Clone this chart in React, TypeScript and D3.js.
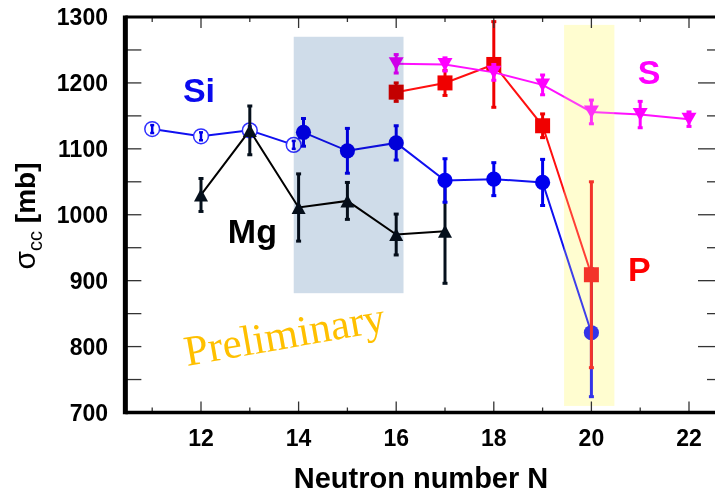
import React from "react";
import * as d3 from "d3";

// ---- data ----
const siOpenN = [11, 12, 13, 13.9];
const siOpenV = [1130, 1119, 1128, 1106];
const siOpenE = [6, 6, 6, 6];

const siN = [14.1, 15, 16, 17, 18, 19, 20];
const siV = [1125, 1097, 1109, 1052, 1054, 1049, 821];
const siE = [21, 34, 26, 33, 25, 35, 97];

const mgN = [12, 13, 14, 15, 16, 17];
const mgV = [1030, 1128, 1011, 1021, 970, 975];
const mgE = [25, 37, 51, 28, 31, 79];

const pN = [16, 17, 18, 19, 20];
const pV = [1186, 1200, 1228, 1135, 909];
const pE = [14, 19, 65, 18, 141];

const sN = [16, 17, 18, 19, 20, 21, 22];
const sV = [1229, 1228, 1216, 1197, 1156, 1152, 1145];
const sE = [14, 10, 12, 15, 18, 20, 11];

const yTicks = [700, 800, 900, 1000, 1100, 1200, 1300];
const xTickLabels = [12, 14, 16, 18, 20, 22];

// shaded bands: [N0, N1, v0, v1]
const blueBand = [13.9, 16.15, 881, 1270];
const yellowBand = [19.44, 20.47, 710, 1288];

const W = 715;
const H = 496;

const x = d3.scaleLinear().domain([12, 22]).range([201, 689]);
const y = d3.scaleLinear().domain([700, 1300]).range([412.5, 17]);

const SANS = "'Liberation Sans', Arial, sans-serif";
const SERIF = "'Liberation Serif', 'Times New Roman', serif";

function ErrBars({ N, V, E, color, capW = 5, sw = 3 }: any) {
  return (
    <g stroke={color} strokeWidth={sw}>
      {N.map((n: number, i: number) => {
        const cx = x(n);
        const y0 = y(V[i] - E[i]);
        const y1 = y(V[i] + E[i]);
        return (
          <g key={i}>
            <line x1={cx} x2={cx} y1={y0} y2={y1} />
            <line x1={cx - capW / 2} x2={cx + capW / 2} y1={y0} y2={y0} />
            <line x1={cx - capW / 2} x2={cx + capW / 2} y1={y1} y2={y1} />
          </g>
        );
      })}
    </g>
  );
}

function linePath(N: number[], V: number[]) {
  const l = d3
    .line<number>()
    .x((d, i) => x(N[i]))
    .y((d) => y(d));
  return l(V) || "";
}

function triUp(cx: number, cy: number, hw: number, h: number) {
  return `M${cx},${cy - h / 2}L${cx + hw},${cy + h / 2}L${cx - hw},${cy + h / 2}Z`;
}
function triDown(cx: number, cy: number, hw: number, h: number) {
  return `M${cx - hw},${cy - h / 2}L${cx + hw},${cy - h / 2}L${cx},${cy + h / 2}Z`;
}

export default function App() {
  const left = x(10.45);
  const right = 716;
  const top = y(1300);
  const bottom = y(700);

  const yMinor = d3.range(700, 1301, 50);
  const xAll = d3.range(11, 23, 1);

  const siAllN = [...siOpenN, ...siN];
  const siAllV = [...siOpenV, ...siV];

  return (
    <svg
      width={W}
      height={H}
      viewBox={`0 0 ${W} ${H}`}
      style={{ position: "absolute", left: 0, top: 0, background: "#fff" }}
    >
      <rect x={0} y={0} width={W} height={H} fill="#fff" />

      {/* yellow band beneath */}
      <rect
        x={x(yellowBand[0])}
        width={x(yellowBand[1]) - x(yellowBand[0])}
        y={y(yellowBand[3])}
        height={y(yellowBand[2]) - y(yellowBand[3])}
        fill="#fffdd0"
      />

      {/* Si line */}
      <path d={linePath(siAllN, siAllV)} fill="none" stroke="#1010f0" strokeWidth={2} />
      {/* Si open circles */}
      {siOpenN.map((n, i) => (
        <circle key={i} cx={x(n)} cy={y(siOpenV[i])} r={7.4} fill="#fff" stroke="#3030ff" strokeWidth={1.5} />
      ))}
      <ErrBars N={siOpenN} V={siOpenV} E={siOpenE} color="#0000e8" sw={2.5} capW={4} />

      {/* Mg */}
      <path d={linePath(mgN, mgV)} fill="none" stroke="#000" strokeWidth={2} />
      <ErrBars N={mgN} V={mgV} E={mgE} color="#05101c" sw={3} capW={5} />
      {mgN.map((n, i) => (
        <path key={i} d={triUp(x(n), y(mgV[i]), 7, 13)} fill="#05101c" />
      ))}

      {/* Si filled */}
      <ErrBars N={siN} V={siV} E={siE} color="#0000ee" sw={3} capW={5} />
      {siN.map((n, i) => (
        <circle key={i} cx={x(n)} cy={y(siV[i])} r={7.6} fill="#0000ee" />
      ))}

      {/* P */}
      <path d={linePath(pN, pV)} fill="none" stroke="#ff1010" strokeWidth={2} />
      <ErrBars N={pN} V={pV} E={pE} color="#f00000" sw={3} capW={5} />
      {pN.map((n, i) => (
        <rect key={i} x={x(n) - 7.5} y={y(pV[i]) - 7.5} width={15} height={15} fill="#f00000" />
      ))}

      {/* S */}
      <path d={linePath(sN, sV)} fill="none" stroke="#ff10ff" strokeWidth={2} />
      <ErrBars N={sN} V={sV} E={sE} color="#ff00ff" sw={3} capW={5} />
      {sN.map((n, i) => (
        <path key={i} d={triDown(x(n), y(sV[i]), 7.5, 13)} fill="#ff00ff" />
      ))}

      {/* blue band overlay (multiply) */}
      <rect
        x={x(blueBand[0])}
        width={x(blueBand[1]) - x(blueBand[0])}
        y={y(blueBand[3])}
        height={y(blueBand[2]) - y(blueBand[3])}
        fill="#cfdce9"
        style={{ mixBlendMode: "multiply" }}
      />
      {/* yellow band overlay */}
      <rect
        x={x(yellowBand[0])}
        width={x(yellowBand[1]) - x(yellowBand[0])}
        y={y(yellowBand[3])}
        height={y(yellowBand[2]) - y(yellowBand[3])}
        fill="#fffdd0"
        opacity={0.2}
      />

      {/* ticks */}
      <g stroke="#333" strokeWidth={1.3}>
        {yMinor.map((v) => (
          <line key={"l" + v} x1={left} x2={left + 16} y1={y(v)} y2={y(v)} />
        ))}
        {yMinor.map((v) => (
          <line key={"r" + v} x1={v % 100 === 0 ? 698 : 707} x2={right} y1={y(v)} y2={y(v)} />
        ))}
        {xAll.map((n) => (
          <line key={"t" + n} x1={x(n)} x2={x(n)} y1={top} y2={top + (n % 2 === 0 ? 11 : 5)} />
        ))}
        {xAll.map((n) => (
          <line key={"b" + n} x1={x(n)} x2={x(n)} y1={bottom} y2={bottom - (n % 2 === 0 ? 11 : 5)} />
        ))}
      </g>

      {/* frame */}
      <line x1={left} x2={right} y1={top} y2={top} stroke="#000" strokeWidth={3} />
      <line x1={left} x2={right} y1={bottom} y2={bottom} stroke="#000" strokeWidth={3.5} />
      <line x1={left} x2={left} y1={top - 1.5} y2={bottom + 1.7} stroke="#000" strokeWidth={5} />

      {/* tick labels */}
      <g fontFamily={SANS} fontWeight="bold" fontSize={23} fill="#000">
        {yTicks.map((v) => (
          <text key={v} x={108} y={y(v)} textAnchor="end" dominantBaseline="central">
            {v}
          </text>
        ))}
        {xTickLabels.map((n) => (
          <text key={n} x={x(n)} y={446} textAnchor="middle">
            {n}
          </text>
        ))}
      </g>

      {/* axis titles */}
      <text x={421} y={488} textAnchor="middle" fontFamily={SANS} fontWeight="bold" fontSize={29} fill="#000">
        Neutron number N
      </text>
      <text
        transform="translate(35,216) rotate(-90)"
        textAnchor="middle"
        fontFamily={SANS}
        fill="#000"
      >
        <tspan fontSize={30}>σ</tspan>
        <tspan fontSize={20} dy={7}>cc</tspan>
        <tspan fontSize={28} fontWeight="bold" dy={-7}> [mb]</tspan>
      </text>

      {/* series labels */}
      <g fontFamily={SANS} fontWeight="bold" fontSize={34}>
        <text x={x(11.63)} y={y(1171)} fill="#0a0aee">Si</text>
        <text x={x(12.55)} y={y(957)} fill="#000">Mg</text>
        <text x={x(20.95)} y={y(1198)} fill="#ff00ff">S</text>
        <text x={x(20.75)} y={y(900)} fill="#ff0000">P</text>
      </g>

      <text
        transform="translate(187,366) rotate(-10)"
        fontFamily={SERIF}
        fontSize={43}
        fill="#ffc000"
      >
        Preliminary
      </text>
    </svg>
  );
}
